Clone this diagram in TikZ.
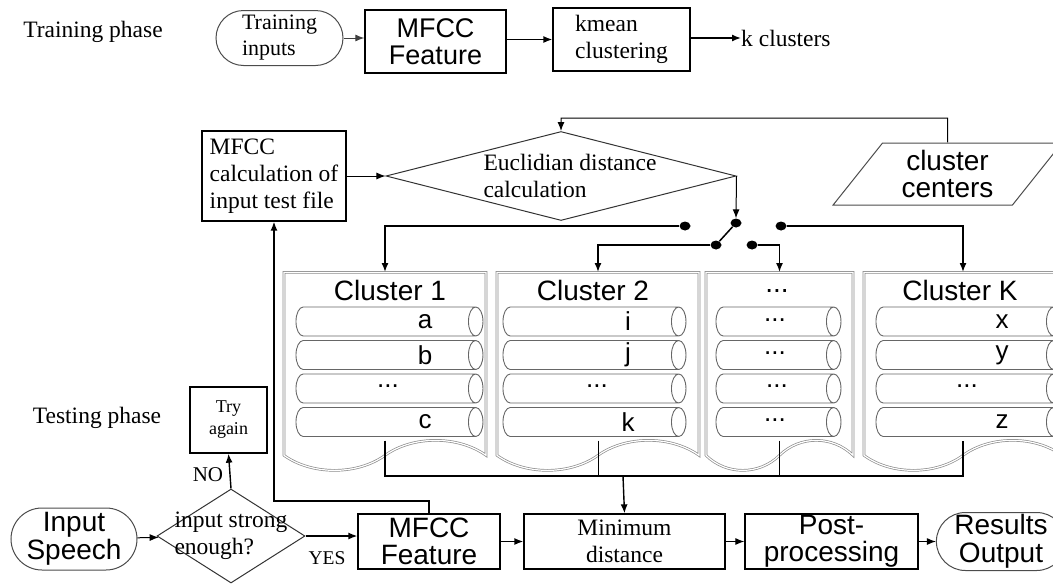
\documentclass[tikz,border=0pt]{standalone}
\usepackage{fontspec}
\setmainfont{Liberation Serif}
\setsansfont{Liberation Sans}
\usetikzlibrary{shapes.geometric,shapes.misc,shapes.symbols,arrows.meta}

\tikzset{
  tm/.style={font=\fontsize{23.5}{27}\selectfont},
  ar/.style={font=\sffamily\fontsize{28}{27.5}\selectfont},
  lab/.style={font=\sffamily\fontsize{26}{26}\selectfont},
  box/.style={draw,line width=1.3pt,inner sep=0pt,align=center},
  stad/.style={draw=black!70,line width=1pt,rounded rectangle,inner sep=0pt,align=center},
  dec/.style={draw=black!80,line width=1pt,diamond,align=left},
  para/.style={draw=black!70,line width=1pt,trapezium,trapezium left angle=54,trapezium right angle=126,trapezium stretches=true,inner sep=0pt,align=center},
  doc/.style={draw=black!45,double=white,double distance=1.2pt,line width=0.7pt,tape,tape bend top=none,tape bend bottom=in and out,tape bend height=30pt,inner sep=0pt,anchor=north,minimum height=198pt},
  cyl/.style={draw=black!60,line width=0.9pt,cylinder,aspect=0.5,inner xsep=0pt,inner ysep=14.5pt,outer sep=0pt},
  dot/.style={ellipse,fill=black,inner sep=0pt,minimum width=11pt,minimum height=9pt},
  arr/.style={-{Latex[length=9pt,width=7pt]},line width=1.4pt},
}

\begin{document}
\begin{tikzpicture}[x=1pt,y=1pt,yscale=-1]
\useasboundingbox (0,0) rectangle (1053,584);
\clip (0,0) rectangle (1053,584);

%%% training phase
% Text Node
\node[tm] (trph) at (93,32) {Training phase};
%Shape: Rounded Rectangle
\node[stad,font=\fontsize{22}{26}\selectfont,align=left,minimum width=127pt,minimum height=55pt] (trin) at (279.5,38) {Training\\inputs};
%Shape: Rectangle
\node[box,font=\sffamily\fontsize{27}{27}\selectfont,minimum width=141pt,minimum height=63pt] (mfa) at (435.5,41.5) {MFCC\\Feature};
%Shape: Rectangle
\node[box,tm,align=left,minimum width=137pt,minimum height=63pt] (kmn) at (621.5,39.5) {kmean\\clustering};
% Text Node
\node[tm,anchor=west,inner sep=0pt] (kcl) at (741,38) {k clusters};
%Straight Lines
\draw[arr,line width=1pt,draw=black!75] (trin.east) -- (trin.east -| mfa.west);
\draw[arr] (mfa.east |- kmn) -- (kmn.west);
\draw[arr] (kmn.east |- kcl) -- (kcl.west);

%%% distance part
%Shape: Rectangle
\node[box,tm,align=left,minimum width=144pt,minimum height=90pt] (mcalc) at (274,176) {MFCC\\calculation of\\input test file};
%Shape: Diamond
\node[dec,tm,aspect=3.9,inner sep=-5pt,minimum width=350pt,minimum height=89pt] (euc) at (561,176) {\hspace*{18pt}Euclidian distance\\\hspace*{18pt}calculation};
%Shape: Parallelogram
\node[para,ar,minimum width=229pt,minimum height=62pt] (ccen) at (947.5,174) {cluster\\centers};
\coordinate (fbk) at (947.5,118);
%Straight Lines
\draw[arr,line width=1pt] (mcalc) -- (euc);
\draw[arr,line width=1pt] (ccen.north) -- (fbk) -| (euc.north);

% switch
\node[dot] (s0) at (736,223) {};
\node[dot] (s1) at (716,245) {};
\node[dot] (d1) at (685,226) {};
\node[dot] (d2) at (752,245) {};
\node[dot] (dk) at (781,226) {};
\draw[arr,line width=1pt] (euc.east) -- (s0.north);
\draw[line width=1.5pt] (s0) -- (s1);

%%% clusters
%Shape: Document
\node[doc,minimum width=202pt] (cl1) at (385,272) {};
\node[doc,minimum width=202pt] (cl2) at (598,272) {};
\node[doc,minimum width=147pt] (cld) at (779.5,272) {};
\node[doc,minimum width=198pt] (clk) at (963,272) {};
\draw[arr] (d1.west) -| (cl1.north);
\draw[arr] (s1.west) -| (cl2.north);
\draw[arr] (d2.east) -| (cld.north);
\draw[arr] (dk.east) -| (clk.north);
% Text Node
\node[ar] (t1) at (390,290) {Cluster 1};
\node[ar] (t2) at (593,290) {Cluster 2};
\node[ar] (td) at (777,291) {...};
\node[ar] (tk) at (960,290) {Cluster K};

%Shape: Cylinder
\node[cyl,minimum height=187pt] (cy1a) at (382,321.5) {};
\node[cyl,minimum height=187pt] (cy1b) at (382,355) {};
\node[cyl,minimum height=187pt] (cy1c) at (382,388.5) {};
\node[cyl,minimum height=187pt] (cy1d) at (382,422) {};
\node[cyl,minimum height=183pt] (cy2a) at (587,321.5) {};
\node[cyl,minimum height=183pt] (cy2b) at (587,355) {};
\node[cyl,minimum height=183pt] (cy2c) at (587,388.5) {};
\node[cyl,minimum height=183pt] (cy2d) at (587,422) {};
\node[cyl,minimum height=125pt] (cyda) at (771,321.5) {};
\node[cyl,minimum height=125pt] (cydb) at (771,355) {};
\node[cyl,minimum height=125pt] (cydc) at (771,388.5) {};
\node[cyl,minimum height=125pt] (cydd) at (771,422) {};
\node[cyl,minimum height=185pt] (cyka) at (961,321.5) {};
\node[cyl,minimum height=185pt] (cykb) at (961,355) {};
\node[cyl,minimum height=185pt] (cykc) at (961,388.5) {};
\node[cyl,minimum height=185pt] (cykd) at (961,422) {};
% Text Node
\node[lab] (lb1a) at (425,321.5) {a};
\node[lab] (lb1b) at (425,355) {b};
\node[lab] (lb1c) at (388,386) {...};
\node[lab] (lb1d) at (425,422) {c};
\node[lab] (lb2a) at (628,321.5) {i};
\node[lab] (lb2b) at (628,355) {j};
\node[lab] (lb2c) at (597,386) {...};
\node[lab] (lb2d) at (628,422) {k};
\node[lab] (lbda) at (775,320) {...};
\node[lab] (lbdb) at (775,353) {...};
\node[lab] (lbdc) at (777,386) {...};
\node[lab] (lbdd) at (775,420) {...};
\node[lab] (lbka) at (1002,321.5) {x};
\node[lab] (lbkb) at (1002,355) {y};
\node[lab] (lbkc) at (967,386) {...};
\node[lab] (lbkd) at (1002,422) {z};

% collecting line
\coordinate (jn) at (623,476);
\draw[line width=1.4pt] (cl1.south) |- (clk.south |- jn) -- (clk.south);
\draw[line width=1pt] (cl2.south) -- (cl2.south |- jn);
\draw[line width=1pt] (cld.south) -- (cld.south |- jn);

%%% testing phase
% Text Node
\node[tm] (tsph) at (97,418) {Testing phase};
%Shape: Rounded Rectangle
\node[stad,ar,minimum width=126pt,minimum height=62pt] (insp) at (74,539) {Input\\Speech};
%Shape: Diamond
\node[dec,tm,aspect=1.57,inner sep=-22pt,minimum width=148pt,minimum height=94pt] (instr) at (231,536) {input strong\\enough?};
%Shape: Rectangle
\node[box,font=\fontsize{18}{22}\selectfont,minimum width=77pt,minimum height=66pt] (try) at (228.5,420) {Try\\again};
\node[box,ar,minimum width=142pt,minimum height=55pt] (mfb) at (429,541.5) {MFCC\\Feature};
\node[box,tm,minimum width=201pt,minimum height=55pt] (mind) at (624.5,541.5) {Minimum\\distance};
\node[box,ar,minimum width=173pt,minimum height=55pt] (post) at (831.5,541.5) {Post-\\processing};
%Shape: Rounded Rectangle
\node[stad,ar,minimum width=128pt,minimum height=58pt] (res) at (1001,541.5) {Results\\Output};
% Text Node
\node[font=\fontsize{21}{21}\selectfont] (no) at (208,475) {NO};
\node[font=\fontsize{19.5}{20}\selectfont] (yes) at (327,558) {YES};

%Straight Lines
\draw[arr,line width=1pt] (insp) -- (instr);
\draw[arr] (instr.north) -- (try.south);
\draw[arr] (instr.east) -- (instr.east -| mfb.west);
\draw[arr] (mfb) -- (mind);
\draw[arr,line width=1pt] (mind) -- (post);
\draw[arr,line width=1pt] (post) -- (res);
\draw[arr] (jn) -- (mind.north);
\coordinate (upc) at (274,501);
\draw[arr] (mfb.north) |- (upc) -- (mcalc.south);

\end{tikzpicture}
\end{document}
